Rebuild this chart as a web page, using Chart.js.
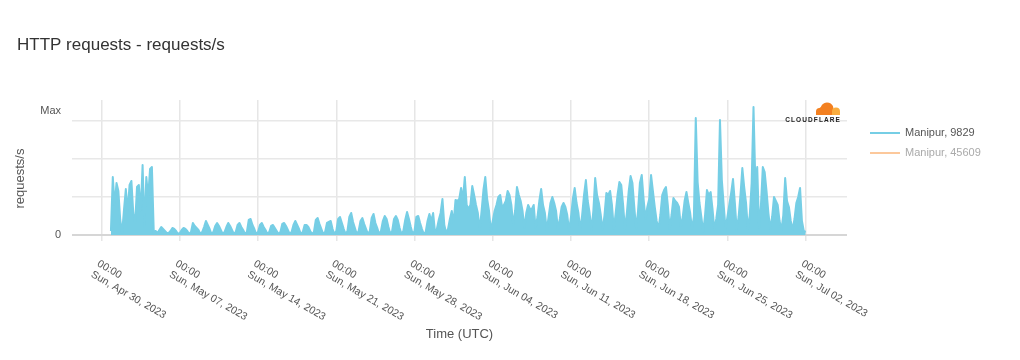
<!DOCTYPE html>
<html>
<head>
<meta charset="utf-8">
<title>HTTP requests - requests/s</title>
<script src="https://cdn.jsdelivr.net/npm/chart.js@4.4.1/dist/chart.umd.min.js"></script>
<style>
  html, body { margin: 0; padding: 0; background: #fff; }
  canvas { display: block; }
</style>
</head>
<body>
<canvas id="httpChart" width="1020" height="360"></canvas>
<script>
// HTTP requests for Manipur, 4-hour samples
// x is counted in days from Sun, Apr 30 2023 00:00 UTC, y is relative req/s

const seriesStartHour = 20;   // first sample: Apr 30, 20:00 UTC
const stepHours = 4;

// one row per day: 00h, 04h, 08h, 12h, 16h, 20h
const manipurRps = [
  4,                          // Apr 30
  58, 30, 52, 44, 15, 2,      // May 01
  25, 46, 24, 50, 54, 22,
  12, 48, 50, 24, 70, 8,
  58, 38, 66, 68, 3, 4,
  2, 5, 8, 6, 4, 2,           // May 05
  2, 4, 7, 6, 4, 1,
  2, 5, 7, 6, 4, 1,           // May 07
  3, 12, 9, 7, 5, 1,
  3, 8, 14, 10, 6, 1,
  3, 9, 12, 9, 5, 1,          // May 10
  3, 8, 12, 9, 5, 1,
  3, 10, 12, 8, 5, 1,
  3, 15, 16, 10, 6, 1,
  3, 10, 12, 8, 5, 1,         // May 14
  3, 9, 10, 7, 4, 1,
  3, 11, 12, 9, 5, 1,
  3, 10, 14, 10, 6, 1,
  3, 10, 10, 8, 4, 1,
  3, 15, 17, 11, 6, 1,
  3, 12, 13, 14, 6, 1,        // May 20
  4, 16, 18, 12, 6, 1,
  4, 18, 22, 13, 7, 1,
  4, 14, 17, 11, 6, 1,
  4, 17, 21, 12, 7, 1,
  4, 14, 19, 16, 8, 1,
  4, 16, 19, 15, 7, 1,
  4, 15, 23, 16, 8, 1,
  4, 18, 19, 12, 6, 1,        // May 28
  3, 14, 21, 14, 22, 3,
  6, 15, 22, 36, 10, 2,       // May 30
  6, 16, 24, 12, 35, 34,
  36, 47, 36, 58, 30, 26,     // Jun 01
  30, 49, 40, 30, 22, 5,
  24, 45, 58, 36, 24, 4,
  14, 24, 30, 38, 40, 28,     // Jun 04
  30, 34, 44, 40, 30, 10,
  24, 48, 40, 34, 24, 7,
  22, 30, 26, 26, 30, 7,
  18, 34, 46, 30, 22, 5,
  18, 32, 38, 32, 24, 6,
  16, 28, 32, 28, 20, 4,
  18, 36, 47, 32, 22, 5,      // Jun 11
  20, 40, 55, 34, 22, 5,
  24, 57, 40, 32, 20, 5,
  20, 42, 40, 44, 30, 6,
  22, 40, 53, 50, 30, 6,
  22, 44, 59, 52, 28, 6,
  24, 52, 60, 36, 16, 28,
  36, 60, 44, 28, 14, 6,      // Jun 18
  20, 40, 45, 48, 30, 6,
  20, 37, 34, 32, 28, 8,      // Jun 20
  18, 34, 43, 32, 22, 6,
  18, 117, 53, 32, 18, 3,
  20, 45, 40, 43, 26, 5,
  16, 30, 115, 55, 30, 6,
  18, 30, 42, 56, 32, 5,      // Jun 25
  18, 40, 67, 48, 32, 6,
  20, 52, 128, 52, 68, 7,
  30, 68, 63, 44, 22, 6,
  18, 38, 34, 30, 14, 5,
  20, 57, 34, 28, 14, 5,      // Jun 30
  16, 32, 38, 47, 14, 4,
  3                           // Jul 02
];

const seriesLabels = ['Manipur, 9829', 'Manipur, 45609'];

const tickDays = [0, 7, 14, 21, 28, 35, 42, 49, 56, 63];
const tickTime = '00:00';
const tickDates = [
  'Sun, Apr 30, 2023', 'Sun, May 07, 2023', 'Sun, May 14, 2023',
  'Sun, May 21, 2023', 'Sun, May 28, 2023', 'Sun, Jun 04, 2023',
  'Sun, Jun 11, 2023', 'Sun, Jun 18, 2023', 'Sun, Jun 25, 2023',
  'Sun, Jul 02, 2023'
];

const yGridValues = [0, 38, 76, 114];
const yMaxMark = 124;

const BLUE = '#76cee5';
const ORANGE = '#fcc89b';
const FONT = "'Liberation Sans', Arial, Helvetica, sans-serif";

Chart.defaults.font.family = FONT;

const points = manipurRps.map((v, i) => ({
  x: (seriesStartHour + i * stepHours) / 24,
  y: v
}));

// x tick labels go down to the right, which the core scale can't do
const slantedDates = {
  id: 'slantedDates',
  afterDraw(chart) {
    const { ctx, chartArea } = chart;
    const xs = chart.scales.x;
    ctx.save();
    ctx.fillStyle = '#555';
    ctx.font = '10.5px ' + FONT;
    ctx.textAlign = 'left';
    ctx.textBaseline = 'alphabetic';
    tickDays.forEach((d, i) => {
      const px = xs.getPixelForValue(d);
      ctx.save();
      ctx.translate(px - 5, chartArea.bottom + 30.5);
      ctx.rotate(Math.PI / 6);
      ctx.fillText(tickTime, 0, 0);
      ctx.fillText(tickDates[i], 0, 12.5);
      ctx.restore();
    });
    ctx.restore();
  }
};

// y title sits a bit below the middle of the plot in the original
const yTitle = {
  id: 'yTitle',
  afterDraw(chart) {
    const { ctx, chartArea } = chart;
    ctx.save();
    ctx.fillStyle = '#555';
    ctx.font = '13px ' + FONT;
    ctx.textAlign = 'center';
    ctx.textBaseline = 'middle';
    ctx.translate(20, (chartArea.top + chartArea.bottom) / 2 + 11);
    ctx.rotate(-Math.PI / 2);
    ctx.fillText('requests/s', 0, 0);
    ctx.restore();
  }
};

const sideLegend = {
  id: 'sideLegend',
  afterDraw(chart) {
    const { ctx, chartArea } = chart;
    ctx.save();
    ctx.font = '11px ' + FONT;
    ctx.textBaseline = 'middle';
    chart.data.datasets.forEach((ds, i) => {
      const y = chartArea.top + 33 + i * 20;
      const x = chartArea.right + 23;
      ctx.strokeStyle = ds.borderColor;
      ctx.lineWidth = 2;
      ctx.beginPath();
      ctx.moveTo(x, y);
      ctx.lineTo(x + 30, y);
      ctx.stroke();
      ctx.fillStyle = ds.hidden ? '#aaa' : '#555';
      ctx.fillText(ds.label, x + 35, y);
    });
    ctx.restore();
  }
};

const cloudflareMark = {
  id: 'cloudflareMark',
  afterDatasetsDraw(chart) {
    const { ctx, chartArea } = chart;
    const r = chartArea.right;
    const t = chartArea.top;
    ctx.save();
    // cloud
    ctx.fillStyle = '#f38020';
    ctx.beginPath();
    ctx.arc(r - 27.5, t + 11.5, 3.5, Math.PI, 1.5 * Math.PI);
    ctx.arc(r - 20, t + 9, 6.5, 1.1 * Math.PI, 1.95 * Math.PI);
    ctx.lineTo(r - 15, t + 15);
    ctx.lineTo(r - 31, t + 15);
    ctx.closePath();
    ctx.fill();
    ctx.fillStyle = '#faad3f';
    ctx.beginPath();
    ctx.arc(r - 11, t + 11.5, 4, Math.PI, 2 * Math.PI);
    ctx.lineTo(r - 7, t + 15);
    ctx.lineTo(r - 15, t + 15);
    ctx.closePath();
    ctx.fill();
    // word mark
    ctx.fillStyle = '#222';
    ctx.font = 'bold 6.5px ' + FONT;
    ctx.textAlign = 'right';
    ctx.textBaseline = 'alphabetic';
    ctx.letterSpacing = '1.1px';
    ctx.fillText('CLOUDFLARE', r - 6, t + 22);
    ctx.restore();
  }
};

new Chart(document.getElementById('httpChart'), {
  type: 'line',
  data: {
    datasets: [
      {
        label: seriesLabels[0],
        data: points,
        borderColor: BLUE,
        backgroundColor: BLUE,
        borderWidth: 2,
        borderJoinStyle: 'round',
        pointRadius: 0,
        tension: 0,
        fill: 'origin'
      },
      {
        label: seriesLabels[1],
        data: [],
        borderColor: ORANGE,
        backgroundColor: ORANGE,
        hidden: true
      }
    ]
  },
  options: {
    responsive: false,
    animation: false,
    layout: { padding: { left: 17, right: 173, top: 0, bottom: 0 } },
    plugins: {
      legend: { display: false },
      tooltip: { enabled: false },
      title: {
        display: true,
        text: 'HTTP requests - requests/s',
        align: 'start',
        color: '#333',
        font: { size: 17, weight: 'normal' },
        padding: { top: 35, bottom: 44.6 }
      }
    },
    scales: {
      x: {
        type: 'linear',
        min: -2.65,
        max: 66.7,
        afterBuildTicks: (s) => { s.ticks = tickDays.map(v => ({ value: v })); },
        afterFit: (s) => { s.height = 125; },
        ticks: { display: false },
        border: { display: false },
        grid: { color: '#e6e6e6', lineWidth: 1.5, drawTicks: true, tickLength: 6 },
        title: {
          display: true,
          text: 'Time (UTC)',
          color: '#555',
          font: { size: 13 },
          padding: { top: 0, bottom: 18 }
        }
      },
      y: {
        min: 0,
        max: 135,
        afterBuildTicks: (s) => { s.ticks = yGridValues.concat([yMaxMark]).map(v => ({ value: v })); },
        afterFit: (s) => { s.width = 55; },
        border: { display: false },
        ticks: {
          autoSkip: false,
          padding: 11,
          color: '#555',
          font: { size: 11 },
          callback: (v) => v === 0 ? '0' : (v === yMaxMark ? 'Max' : '')
        },
        grid: {
          drawTicks: false,
          color: (c) => c.tick.value === yMaxMark ? 'rgba(0,0,0,0)' : (c.tick.value === 0 ? '#d6d6d6' : '#e8e8e8'),
          lineWidth: (c) => c.tick.value === 0 ? 2 : 1.5
        },
        title: { display: false }
      }
    }
  },
  plugins: [slantedDates, yTitle, sideLegend, cloudflareMark]
});
</script>
</body>
</html>
